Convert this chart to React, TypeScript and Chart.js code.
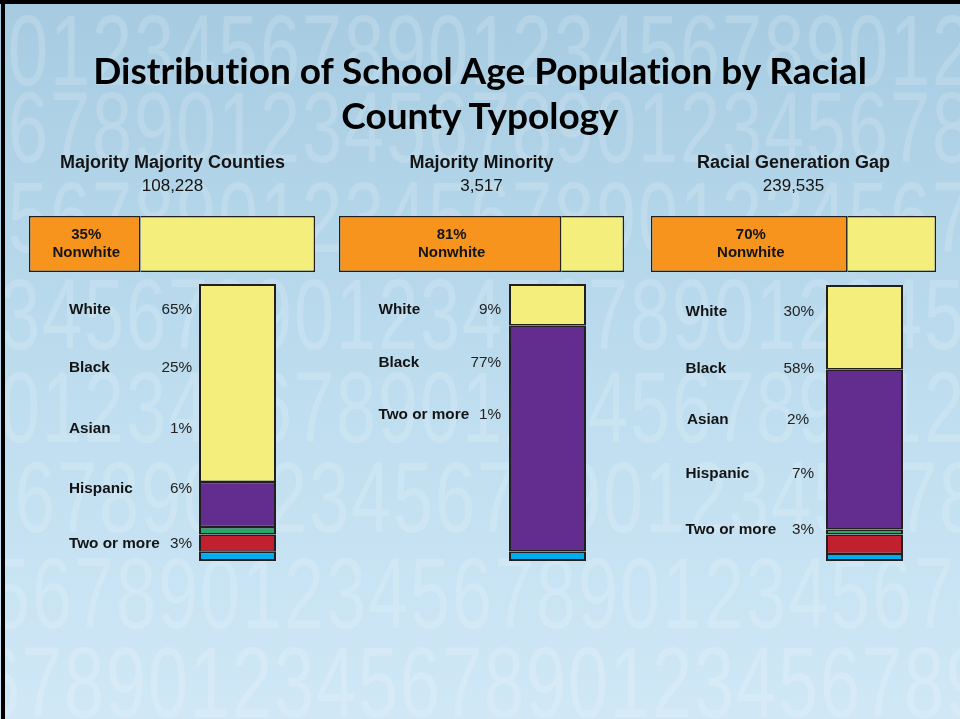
import React, { useEffect, useRef } from "react";
import { Chart, registerables } from "chart.js";
Chart.register(...registerables);

// ---------- data ----------
const titleLines = ["Distribution of School Age Population by Racial", "County Typology"];
const panelTitles = ["Majority Majority Counties", "Majority Minority", "Racial Generation Gap"];
const panelCounts = ["108,228", "3,517", "239,535"];

// top horizontal bars (share of bar drawn as Nonwhite / White)
const nonwhiteLabels = ["35%", "81%", "70%"];
const nonwhiteDrawn = [39, 78, 69];
const whiteDrawn = [61, 22, 31];

// vertical stacked bars
const races = ["White", "Black", "Asian", "Hispanic", "Two or more"];
const panel1Drawn = [71.5, 16.2, 2.7, 6.3, 3.3];
const panel2Drawn = [15.0, 81.6, 0, 0, 3.4];
const panel3Drawn = [30.6, 58.0, 1.8, 7.1, 2.5];

// text labels beside the bars
const panel1Names = ["White", "Black", "Asian", "Hispanic", "Two or more"];
const panel1Pcts = ["65%", "25%", "1%", "6%", "3%"];
const panel2Names = ["White", "Black", "Two or more"];
const panel2Pcts = ["9%", "77%", "1%"];
const panel3Names = ["White", "Black", "Asian", "Hispanic", "Two or more"];
const panel3Pcts = ["30%", "58%", "2%", "7%", "3%"];

// ---------- styles ----------
const raceColors = ["#f4ef7c", "#632d8f", "#2aa86b", "#c1202e", "#00aeef"];
const orange = "#f7941e";
const yellow = "#f4ef7c";
const edge = "#231f20";
const sansFont = '"Liberation Sans", Arial, Helvetica, sans-serif';

const topBarBoxes = [
  { left: 29, top: 216, width: 286, height: 56 },
  { left: 339, top: 216, width: 285, height: 56 },
  { left: 651, top: 216, width: 285, height: 56 },
];
const vBarBoxes = [
  { left: 199, top: 284, width: 77, height: 277 },
  { left: 509, top: 284, width: 77, height: 277 },
  { left: 826, top: 285, width: 77, height: 276 },
];
const panelCenters = [172.5, 481.5, 793.5];

const labelLayouts = [
  { nameX: [69, 69, 69, 69, 69], pctRight: [192, 192, 192, 192, 192], ys: [309, 367, 428, 488, 543] },
  { nameX: [378.5, 378.5, 378.5], pctRight: [501, 501, 501], ys: [309, 362, 414] },
  { nameX: [685.5, 685.5, 687, 685.5, 685.5], pctRight: [814, 814, 809, 814, 814], ys: [311, 368, 418.5, 472.5, 529] },
];

function HBar({ idx }: { idx: number }) {
  const ref = useRef<HTMLCanvasElement | null>(null);
  const box = topBarBoxes[idx];
  useEffect(() => {
    const canvas = ref.current;
    if (!canvas) return;
    const labelPlugin = {
      id: "nwLabel",
      afterDatasetsDraw(chart: any) {
        const el = chart.getDatasetMeta(0).data[0];
        if (!el) return;
        const p = el.getProps(["x", "y", "base"], true);
        const ctx = chart.ctx;
        ctx.save();
        ctx.font = "bold 15px " + sansFont;
        ctx.fillStyle = "#141414";
        ctx.textAlign = "center";
        ctx.textBaseline = "alphabetic";
        const cx = (p.x + p.base) / 2 + 1.5;
        ctx.fillText(nonwhiteLabels[idx], cx, p.y - 4.6);
        ctx.fillText("Nonwhite", cx, p.y + 13.4);
        ctx.restore();
      },
    };
    const chart = new Chart(canvas, {
      type: "bar",
      data: {
        labels: [panelTitles[idx]],
        datasets: [
          {
            label: "Nonwhite",
            data: [nonwhiteDrawn[idx]],
            backgroundColor: orange,
            borderColor: edge,
            borderWidth: { top: 1.4, bottom: 1.4, left: 1.4, right: 1.6 },
            borderSkipped: false,
            inflateAmount: 0,
            barPercentage: 1,
            categoryPercentage: 1,
          },
          {
            label: "White",
            data: [whiteDrawn[idx]],
            backgroundColor: yellow,
            borderColor: edge,
            borderWidth: { top: 1.4, bottom: 1.4, left: 0, right: 1.4 },
            borderSkipped: false,
            inflateAmount: 0,
            barPercentage: 1,
            categoryPercentage: 1,
          },
        ],
      },
      options: {
        indexAxis: "y",
        responsive: false,
        maintainAspectRatio: false,
        animation: false,
        layout: { padding: 0 },
        plugins: { legend: { display: false }, tooltip: { enabled: false }, title: { display: false } },
        scales: {
          x: { stacked: true, display: false, min: 0, max: 100 },
          y: { stacked: true, display: false },
        },
      } as any,
      plugins: [labelPlugin],
    });
    return () => chart.destroy();
  }, [idx]);
  return (
    <canvas
      ref={ref}
      width={box.width}
      height={box.height}
      style={{ position: "absolute", left: box.left, top: box.top, width: box.width, height: box.height, display: "block" }}
    />
  );
}

function VBar({ idx, shares }: { idx: number; shares: number[] }) {
  const ref = useRef<HTMLCanvasElement | null>(null);
  const box = vBarBoxes[idx];
  useEffect(() => {
    const canvas = ref.current;
    if (!canvas) return;
    const order = [4, 3, 2, 1, 0]; // bottom to top
    const datasets = order.map((r) => ({
      label: races[r],
      data: [shares[r]],
      backgroundColor: raceColors[r],
      borderColor: edge,
      borderWidth: { top: r === 0 ? 2 : 1.5, bottom: r === 4 ? 2 : 1.5, left: 2, right: 2 },
      borderSkipped: false,
      inflateAmount: 0,
      barPercentage: 1,
      categoryPercentage: 1,
    }));
    const chart = new Chart(canvas, {
      type: "bar",
      data: { labels: [panelTitles[idx]], datasets },
      options: {
        responsive: false,
        maintainAspectRatio: false,
        animation: false,
        layout: { padding: 0 },
        plugins: { legend: { display: false }, tooltip: { enabled: false }, title: { display: false } },
        scales: {
          x: { stacked: true, display: false },
          y: { stacked: true, display: false, min: 0, max: 100 },
        },
      } as any,
    });
    return () => chart.destroy();
  }, [idx, shares]);
  return (
    <canvas
      ref={ref}
      width={box.width}
      height={box.height}
      style={{ position: "absolute", left: box.left, top: box.top, width: box.width, height: box.height, display: "block" }}
    />
  );
}

function Watermark() {
  const ref = useRef<HTMLCanvasElement | null>(null);
  useEffect(() => {
    const c = ref.current;
    if (!c) return;
    const ctx = c.getContext("2d");
    if (!ctx) return;
    ctx.clearRect(0, 0, 960, 719);
    const rows = [
      { base: 85, start: 0, x: 8 },
      { base: 162, start: 6, x: 8 },
      { base: 252, start: 5, x: 8 },
      { base: 349, start: 3, x: 0 },
      { base: 442, start: 0, x: 0 },
      { base: 532, start: 6, x: 15 },
      { base: 628, start: 5, x: -10 },
      { base: 717, start: 6, x: -20 },
    ];
    ctx.fillStyle = "rgba(255,255,255,0.16)";
    ctx.font = "100px " + sansFont;
    rows.forEach((r) => {
      for (let i = 0; i < 25; i++) {
        ctx.save();
        ctx.translate(r.x + i * 42, r.base);
        ctx.scale(0.72, 1);
        ctx.fillText(String((r.start + i) % 10), 0, 0);
        ctx.restore();
      }
    });
  }, []);
  return <canvas ref={ref} width={960} height={719} style={{ position: "absolute", left: 0, top: 0, width: 960, height: 719 }} />;
}

const centerText = (text: string, cx: number, cy: number, size: number, weight: string) => (
  <div
    key={text + cx + cy}
    style={{
      position: "absolute",
      left: cx - 200,
      width: 400,
      top: cy,
      transform: "translateY(-50%)",
      textAlign: "center",
      fontFamily: sansFont,
      fontSize: size,
      fontWeight: weight as any,
      lineHeight: 1,
      color: "#141414",
      whiteSpace: "nowrap",
    }}
  >
    {text}
  </div>
);

function SideLabels({ p, names, pcts }: { p: number; names: string[]; pcts: string[] }) {
  const L = labelLayouts[p];
  return (
    <>
      {names.map((n, i) => (
        <React.Fragment key={n + i}>
          <div
            style={{
              position: "absolute",
              left: L.nameX[i],
              top: L.ys[i],
              transform: "translateY(-50%)",
              fontFamily: sansFont,
              fontSize: 15.3,
              fontWeight: 700,
              lineHeight: 1,
              color: "#141414",
              whiteSpace: "nowrap",
            }}
          >
            {n}
          </div>
          <div
            style={{
              position: "absolute",
              left: L.pctRight[i] - 80,
              width: 80,
              textAlign: "right",
              top: L.ys[i],
              transform: "translateY(-50%)",
              fontFamily: sansFont,
              fontSize: 15.3,
              fontWeight: 400,
              lineHeight: 1,
              color: "#222",
              whiteSpace: "nowrap",
            }}
          >
            {pcts[i]}
          </div>
        </React.Fragment>
      ))}
    </>
  );
}

export default function App() {
  return (
    <div
      style={{
        position: "absolute",
        left: 0,
        top: 0,
        width: 960,
        height: 719,
        overflow: "hidden",
        background: "linear-gradient(180deg, #a6cbe1 0%, #bcdcee 50%, #d0e8f6 100%)",
      }}
    >
      <Watermark />
      <div style={{ position: "absolute", left: 0, top: 0, width: 960, height: 3.5, background: "#000" }} />
      <div style={{ position: "absolute", left: 1, top: 0, width: 3.5, height: 719, background: "#000" }} />
      <div
        style={{
          position: "absolute",
          left: 0,
          width: 960,
          top: 46.5,
          textAlign: "center",
          fontFamily: 'Lato, "Open Sans", sans-serif',
          fontWeight: 700,
          fontSize: 37,
          lineHeight: "45px",
          fontVariantLigatures: "none",
          fontFeatureSettings: '"liga" 0, "clig" 0',
          color: "#000",
        }}
      >
        <div>{titleLines[0]}</div>
        <div>{titleLines[1]}</div>
      </div>
      {panelTitles.map((t, i) => centerText(t, panelCenters[i], 161.5, 18, "700"))}
      {panelCounts.map((t, i) => centerText(t, panelCenters[i], 185, 17, "400"))}
      <HBar idx={0} />
      <HBar idx={1} />
      <HBar idx={2} />
      <VBar idx={0} shares={panel1Drawn} />
      <VBar idx={1} shares={panel2Drawn} />
      <VBar idx={2} shares={panel3Drawn} />
      <SideLabels p={0} names={panel1Names} pcts={panel1Pcts} />
      <SideLabels p={1} names={panel2Names} pcts={panel2Pcts} />
      <SideLabels p={2} names={panel3Names} pcts={panel3Pcts} />
    </div>
  );
}
